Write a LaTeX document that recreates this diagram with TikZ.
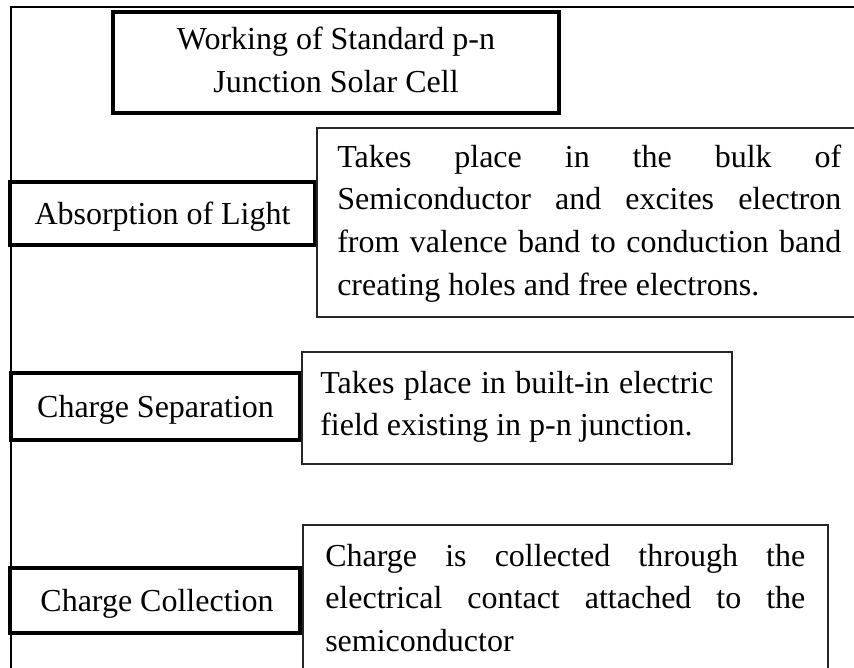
\documentclass[tikz,border=0pt]{standalone}
\usepackage{fontspec}
\setmainfont{Liberation Serif}
\usetikzlibrary{fit}
\begin{document}
\begin{tikzpicture}[x=0.75pt,y=-0.75pt,
  thickbox/.style={draw=black, line width=3pt, inner sep=0pt},
  thinbox/.style={draw=black!85, line width=1.1pt, inner sep=0pt},
  frameline/.style={draw=black, line width=1.5pt},
  txt/.style={inner sep=0pt, anchor=base, font=\fontsize{24}{32}\selectfont},
  para/.style={inner sep=0pt, anchor=base west, font=\fontsize{24}{32}\selectfont}]
\useasboundingbox (0,0) rectangle (854,668);
\clip (0,0) rectangle (854,668);
% outer frame
\coordinate (ftr) at (880,7);
\coordinate (ftl) at (11,7);
\coordinate (fbl) at (11,690);
\draw[frameline] (ftr) -- (ftl) -- (fbl);
% title
\node[thickbox, fit={(113,12) (559,113)}] (title) {};
\node[txt] (title1) at (336,49) {Working of Standard p-n};
\node[txt] (title2) at (336,92) {Junction Solar Cell};
% absorption
\node[thickbox, fit={(10,182) (315,245)}] (absbox) {};
\node[txt] (abstxt) at (162.5,224) {Absorption of Light};
\node[thinbox, fit={(317,128) (880,317)}] (desc1) {};
\node[para] (desc1txt) at (337,167) {\parbox[t]{378pt}{Takes place in the bulk of\linebreak Semiconductor and excites electron\linebreak from valence band to conduction band\linebreak creating holes and free electrons.}};
% separation
\node[thickbox, fit={(11,373) (300,440)}] (sepbox) {};
\node[txt] (septxt) at (155.5,417) {Charge Separation};
\node[thinbox, fit={(302,352) (732,464)}] (desc2) {};
\node[para] (desc2txt) at (320,393) {\parbox[t]{294.75pt}{Takes place in built-in electric\linebreak field existing in p-n junction.}};
% collection
\node[thickbox, fit={(10,568) (300,633)}] (colbox) {};
\node[txt] (coltxt) at (157,611) {Charge Collection};
\node[thinbox, fit={(303,525) (828,690)}] (desc3) {};
\node[para] (desc3txt) at (325,566) {\parbox[t]{360pt}{Charge is collected through the\linebreak electrical contact attached to the\linebreak semiconductor}};
\end{tikzpicture}
\end{document}
